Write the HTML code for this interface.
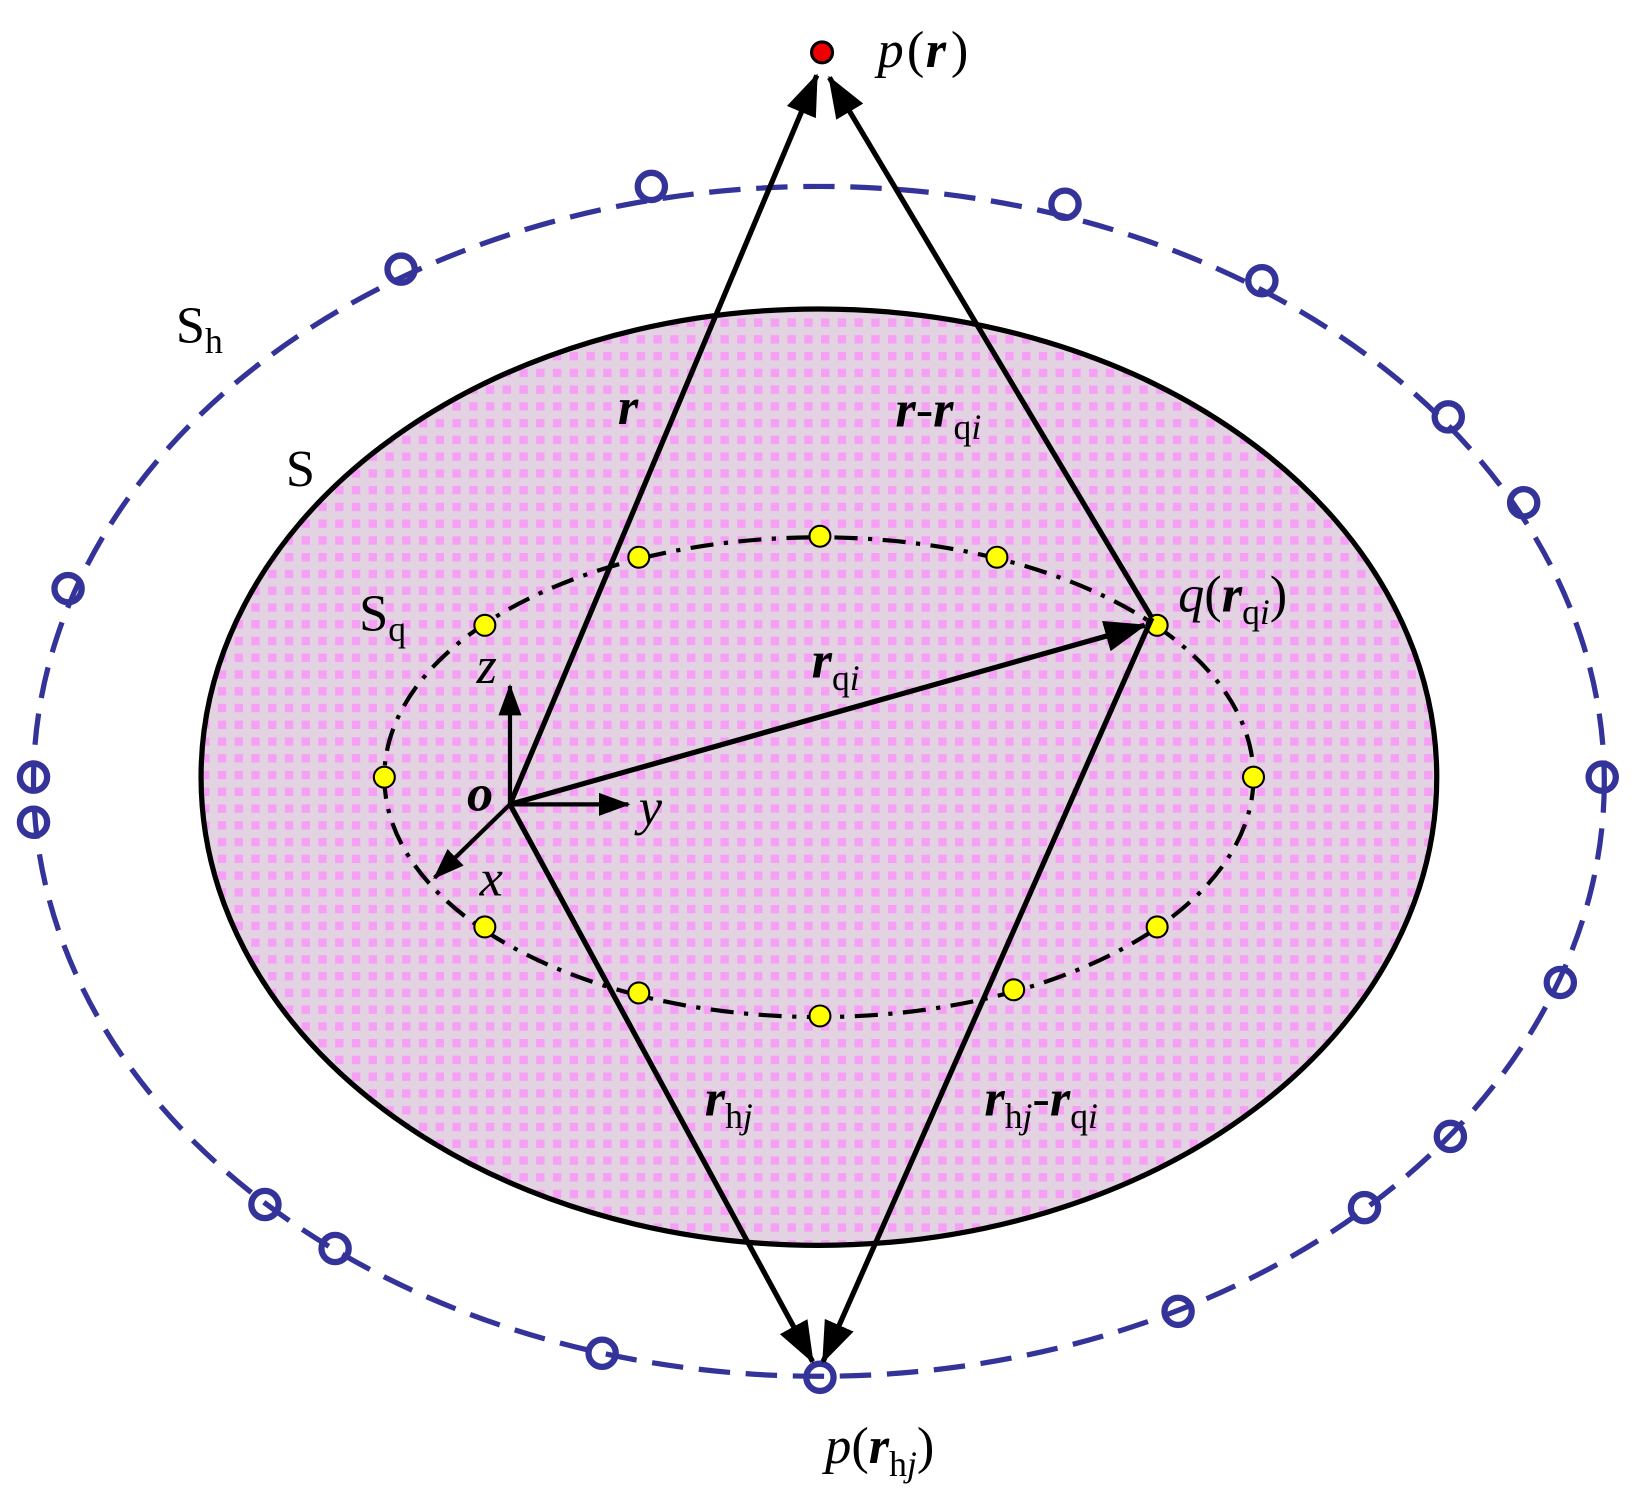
<!DOCTYPE html>
<html><head><meta charset="utf-8"><style>html,body{margin:0;padding:0;background:#fff}svg{display:block}
text{font-family:"Liberation Serif",serif;font-size:50px;fill:#000}
.i{font-style:italic}.b{font-weight:bold;font-style:italic}.s{font-size:34px}</style></head><body>
<svg width="1642" height="1503" viewBox="0 0 1568 1435" preserveAspectRatio="none" xmlns="http://www.w3.org/2000/svg">
<defs>
<pattern id="pk" width="16" height="16" patternUnits="userSpaceOnUse">
<rect width="16" height="16" fill="#e2d2e2"/>
<rect x="0" y="0" width="8" height="8" fill="#f5a0f5"/>
</pattern>
<marker id="ah" viewBox="0 0 40 30" refX="38" refY="15" markerWidth="40" markerHeight="30" markerUnits="userSpaceOnUse" orient="auto"><path d="M0,0 L40,15 L0,30 z"/></marker>
<marker id="ab" viewBox="0 0 30 22" refX="28" refY="11" markerWidth="30" markerHeight="22" markerUnits="userSpaceOnUse" orient="auto"><path d="M0,0 L30,11 L0,22 z"/></marker>
</defs>
<ellipse cx="782" cy="746" rx="750" ry="568" fill="none" stroke="#333399" stroke-width="5" stroke-dasharray="30,15"/>
<ellipse cx="782" cy="742" rx="590" ry="447" fill="url(#pk)" stroke="#000" stroke-width="5"/>
<ellipse cx="782" cy="742" rx="415" ry="229" fill="none" stroke="#000" stroke-width="4" stroke-dasharray="22,10,4,10"/>
<g fill="none" stroke="#333399" stroke-width="6">
<circle cx="622" cy="178" r="13"/><circle cx="383" cy="257" r="13"/><circle cx="65" cy="562" r="13"/><circle cx="32" cy="742" r="13"/><circle cx="32" cy="785" r="13"/><circle cx="1017" cy="195" r="13"/><circle cx="1205" cy="268" r="13"/><circle cx="1383" cy="398" r="13"/><circle cx="1455" cy="480" r="13"/><circle cx="1530" cy="742" r="13"/><circle cx="1490" cy="938" r="13"/><circle cx="1385" cy="1085" r="13"/><circle cx="1303" cy="1153" r="13"/><circle cx="1125" cy="1252" r="13"/><circle cx="783" cy="1315" r="13"/><circle cx="575" cy="1292" r="13"/><circle cx="320" cy="1192" r="13"/><circle cx="253" cy="1150" r="13"/>
</g>
<g fill="#ffff00" stroke="#000" stroke-width="2">
<circle cx="783" cy="512" r="10"/><circle cx="610" cy="532" r="10"/><circle cx="952" cy="532" r="10"/><circle cx="463" cy="597" r="10"/><circle cx="1105" cy="597" r="10"/><circle cx="367" cy="742" r="10"/><circle cx="1197" cy="742" r="10"/><circle cx="463" cy="885" r="10"/><circle cx="1105" cy="885" r="10"/><circle cx="610" cy="948" r="10"/><circle cx="968" cy="945" r="10"/><circle cx="783" cy="970" r="10"/>
</g>
<circle cx="785" cy="50" r="10" fill="#ee0000" stroke="#000" stroke-width="3"/>
<g stroke="#000" stroke-width="5" fill="none">
<line x1="487" y1="768" x2="780" y2="72" marker-end="url(#ah)"/>
<line x1="1100" y1="590" x2="792" y2="74" marker-end="url(#ah)"/>
<line x1="487" y1="768" x2="1093" y2="597" marker-end="url(#ah)"/>
<line x1="487" y1="768" x2="776" y2="1300" marker-end="url(#ah)"/>
<line x1="1100" y1="590" x2="786" y2="1300" marker-end="url(#ah)"/>
<line x1="487" y1="768" x2="487" y2="655" stroke-width="4" marker-end="url(#ab)"/>
<line x1="487" y1="768" x2="600" y2="768" stroke-width="4" marker-end="url(#ab)"/>
<line x1="487" y1="768" x2="415" y2="838" stroke-width="4" marker-end="url(#ab)"/>
</g>
<text x="838" y="64" class="i">p</text><text x="866" y="64">(</text><text x="884" y="64" class="b">r</text><text x="908" y="64">)</text>
<text x="168" y="327">S<tspan class="s" dy="10">h</tspan></text>
<text x="273" y="464">S</text>
<text x="343" y="602">S<tspan class="s" dy="10">q</tspan></text>
<text x="590" y="405" class="b">r</text>
<text x="855" y="407"><tspan class="b">r</tspan>-<tspan class="b">r</tspan><tspan class="s" dy="12">q<tspan class="i">i</tspan></tspan></text>
<text x="1125" y="584"><tspan class="i">q</tspan>(<tspan class="b">r</tspan><tspan class="s" dy="12">q<tspan class="i">i</tspan></tspan><tspan dy="-12">)</tspan></text>
<text x="775" y="647"><tspan class="b">r</tspan><tspan class="s" dy="12">q<tspan class="i">i</tspan></tspan></text>
<text x="455" y="652" class="i">z</text>
<text x="446" y="774" class="b">o</text>
<text x="610" y="787" class="i">y</text>
<text x="458" y="855" class="i">x</text>
<text x="673" y="1065"><tspan class="b">r</tspan><tspan class="s" dy="12">h<tspan class="i">j</tspan></tspan></text>
<text x="940" y="1065"><tspan class="b">r</tspan><tspan class="s" dy="12">h<tspan class="i">j</tspan></tspan><tspan dy="-12">-</tspan><tspan class="b">r</tspan><tspan class="s" dy="12">q<tspan class="i">i</tspan></tspan></text>
<text x="788" y="1397"><tspan class="i">p</tspan>(<tspan class="b">r</tspan><tspan class="s" dy="12">h<tspan class="i">j</tspan></tspan><tspan dy="-12">)</tspan></text>
</svg>
</body></html>
